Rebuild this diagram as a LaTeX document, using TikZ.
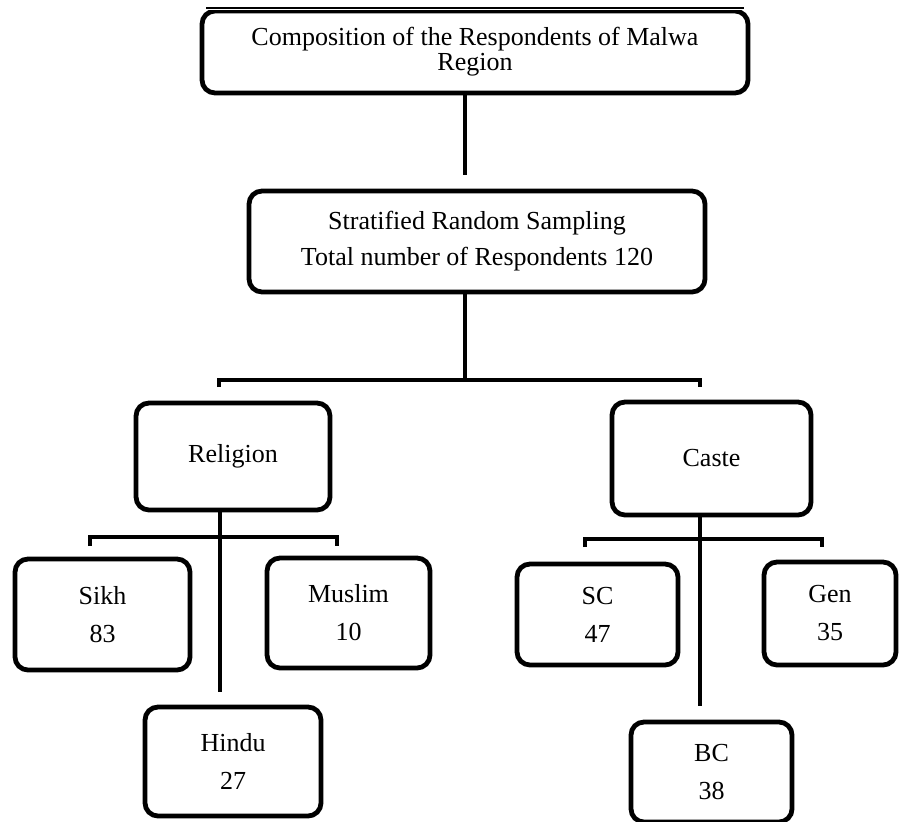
\documentclass[tikz,border=0pt]{standalone}
\usepackage{fontspec}
\setmainfont{Liberation Serif}
\begin{document}
\begin{tikzpicture}[x=1pt,y=-1pt,
  box/.style={draw=black, line width=4.8pt, rounded corners=13pt, align=center,
    inner sep=0pt, font=\fontsize{26}{38}\selectfont},
  link/.style={line width=4.8pt}]
\useasboundingbox (0,0) rectangle (901,821);

% title box (its top edge runs against the page edge)
\begin{scope}
  \clip (0,10.5) rectangle (901,821);
  \node[box, minimum width=546pt, minimum height=82pt,
        font=\fontsize{26}{25}\selectfont] (title) at (475,52)
    {Composition of the Respondents of Malwa\\Region};
\end{scope}
\draw[line width=1.2pt] (206,8) -- (744,8);

% sampling box
\node[box, minimum width=456pt, minimum height=101pt,
      font=\fontsize{26}{36}\selectfont] (sampling) at (477,241.5)
  {Stratified Random Sampling\\Total number of Respondents 120};

% two strata
\node[box, minimum width=194pt, minimum height=107pt] (religion) at (233,456.5) {Religion};
\node[box, minimum width=199pt, minimum height=113pt] (caste) at (711.5,458.5) {Caste};

% religion groups
\node[box, minimum width=175pt, minimum height=111pt] (sikh) at (102.5,614.5) {Sikh\\83};
\node[box, minimum width=163pt, minimum height=110pt] (muslim) at (348.5,613) {Muslim\\10};
\node[box, minimum width=176pt, minimum height=109pt] (hindu) at (233,761.5) {Hindu\\27};

% caste groups
\node[box, minimum width=161pt, minimum height=101pt] (sc) at (597.5,614.5) {SC\\47};
\node[box, minimum width=132pt, minimum height=103pt] (gen) at (830,613.5) {Gen\\35};
\node[box, minimum width=161pt, minimum height=100pt] (bc) at (711.5,772) {BC\\38};

% junction points of the tree
\coordinate (j1) at (465,175);
\coordinate (b1) at (465,380);
\coordinate (b1l) at (219,387);
\coordinate (b1r) at (700,387);

\coordinate (r2) at (220,692);
\coordinate (rb) at (220,537);
\coordinate (rbl) at (90,546);
\coordinate (rbr) at (337,546);

\coordinate (c2) at (700,706);
\coordinate (cb) at (700,539);
\coordinate (cbl) at (585,547);
\coordinate (cbr) at (822,547);

% connectors
\draw[link] (j1 |- title.south) -- (j1);
\draw[link] (b1 |- sampling.south) -- (b1);
\draw[link] (b1l) |- (b1) -| (b1r);

\draw[link] (r2 |- religion.south) -- (r2);
\draw[link] (rbl) |- (rb) -| (rbr);

\draw[link] (c2 |- caste.south) -- (c2);
\draw[link] (cbl) |- (cb) -| (cbr);
\end{tikzpicture}
\end{document}
